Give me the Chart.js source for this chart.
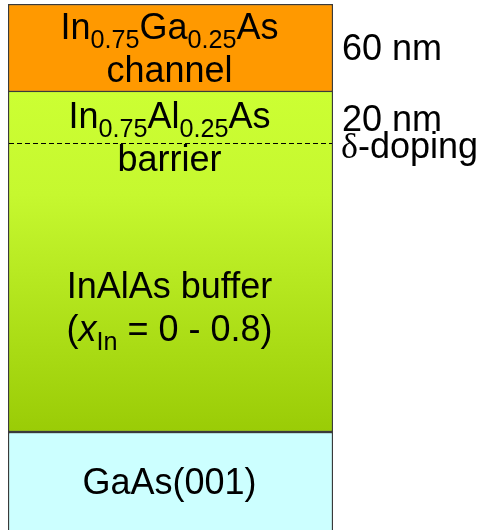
<!DOCTYPE html>
<html>
<head>
<meta charset="utf-8">
<script src="https://cdn.jsdelivr.net/npm/chart.js@4"></script>
<style>
  html, body { margin: 0; padding: 0; background: #fff; }
  canvas { display: block; }
</style>
</head>
<body>
<canvas id="stack" width="486" height="530"></canvas>
<script>
// layer stack, top to bottom (drawn heights, schematic units)
const layerNames = ["channel", "barrier", "buffer", "substrate"];
const layerHeights = [88, 90, 250, 98];
const layerColors = ["#ff9900", "green", "green", "#ccffff"];
const dopingDepth = 139;

// text inside each layer, one entry per line, runs of {t, sub, it}
const layerText = [
    [[{t:"In"},{t:"0.75",sub:true},{t:"Ga"},{t:"0.25",sub:true},{t:"As"}], [{t:"channel"}]],
    [[{t:"In"},{t:"0.75",sub:true},{t:"Al"},{t:"0.25",sub:true},{t:"As"}], [{t:"barrier"}]],
    [[{t:"InAlAs buffer"}], [{t:"("},{t:"x",it:true},{t:"In",sub:true},{t:" = 0 - 0.8)"}]],
    [[{t:"GaAs(001)"}]]
];
const thicknessLabels = ["60 nm", "20 nm"];
const dopingLabel = "-doping";

const FONT = "'Liberation Sans', Arial, sans-serif";
const SIZE = 36;

const total = layerHeights.reduce((a, b) => a + b, 0);

function greenFill(ctx){
    const chart = ctx.chart;
    const y = chart.scales.y;
    if(!chart.chartArea || !y) return "#c0ee2a";
    const top = y.getPixelForValue(layerHeights[0]);
    const bot = y.getPixelForValue(layerHeights[0] + layerHeights[1] + layerHeights[2]);
    if(!isFinite(top) || !isFinite(bot)) return "#c0ee2a";
    const g = chart.ctx.createLinearGradient(0, top, 0, bot);
    g.addColorStop(0, "#ccff33");
    g.addColorStop(0.3, "#c6f82f");
    g.addColorStop(1, "#9acc06");
    return g;
}

const B = 1.5;
const borders = [
    {top:B, right:B, bottom:B, left:B},
    {top:0, right:B, bottom:0, left:B},
    {top:0, right:B, bottom:B, left:B},
    {top:B, right:B, bottom:0, left:B}
];

function runFont(r){
    const size = r.sub ? SIZE * 0.7 : SIZE;
    return (r.it ? "italic " : "") + size + "px " + FONT;
}

function drawRuns(ctx, runs, cx, base){
    let w = 0;
    runs.forEach(r => { ctx.font = runFont(r); w += ctx.measureText(r.t).width; });
    let x = cx - w / 2;
    runs.forEach(r => {
        ctx.font = runFont(r);
        ctx.fillText(r.t, x, r.sub ? base + 9 : base);
        x += ctx.measureText(r.t).width;
    });
}

const labelsPlugin = {
    id: "layerLabels",
    afterDatasetsDraw(chart){
        const ctx = chart.ctx;
        const y = chart.scales.y;
        const area = chart.chartArea;
        const cx = (area.left + area.right) / 2;
        ctx.save();
        ctx.fillStyle = "#000";
        ctx.textBaseline = "alphabetic";

        // delta-doping plane
        const dy = Math.round(y.getPixelForValue(dopingDepth)) + 0.5;
        ctx.strokeStyle = "#000";
        ctx.lineWidth = 1;
        ctx.setLineDash([5, 3]);
        ctx.beginPath();
        ctx.moveTo(area.left + 1, dy);
        ctx.lineTo(area.right - 1, dy);
        ctx.stroke();
        ctx.setLineDash([]);

        // layer names, centred in each layer
        let start = 0;
        layerHeights.forEach((h, i) => {
            const mid = (y.getPixelForValue(start) + y.getPixelForValue(start + h)) / 2;
            const lines = layerText[i];
            lines.forEach((runs, j) => {
                const base = mid + 12.5 + (j - (lines.length - 1) / 2) * 43;
                drawRuns(ctx, runs, cx - 1, base);
            });
            start += h;
        });

        // thickness notes on the right
        const tx = area.right + 9;
        ctx.textAlign = "left";
        ctx.font = SIZE + "px " + FONT;
        const chMid = (y.getPixelForValue(0) + y.getPixelForValue(layerHeights[0])) / 2;
        ctx.fillText(thicknessLabels[0], tx, chMid + 12);
        ctx.fillText(thicknessLabels[1], tx, dy - 13);
        ctx.font = SIZE + "px 'Liberation Serif', serif";
        ctx.fillText("\u03b4", tx - 1, dy + 14);
        const dw = ctx.measureText("\u03b4").width;
        ctx.font = SIZE + "px " + FONT;
        ctx.fillText(dopingLabel, tx - 1 + dw, dy + 14);
        ctx.restore();
    }
};

new Chart(document.getElementById("stack"), {
    type: "bar",
    data: {
        labels: [""],
        datasets: layerNames.map((name, i) => ({
            label: name,
            data: [layerHeights[i]],
            backgroundColor: layerColors[i] === "green" ? greenFill : layerColors[i],
            borderColor: "#3a3a3a",
            borderWidth: borders[i],
            borderSkipped: false,
            barPercentage: 1,
            categoryPercentage: 1
        }))
    },
    options: {
        responsive: false,
        animation: false,
        layout: { padding: { left: 8, right: 153, top: 4, bottom: 0 } },
        plugins: { legend: { display: false }, tooltip: { enabled: false } },
        scales: {
            x: { stacked: true, display: false },
            y: { stacked: true, display: false, reverse: true, min: 0, max: total }
        }
    },
    plugins: [labelsPlugin]
});
</script>
</body>
</html>
